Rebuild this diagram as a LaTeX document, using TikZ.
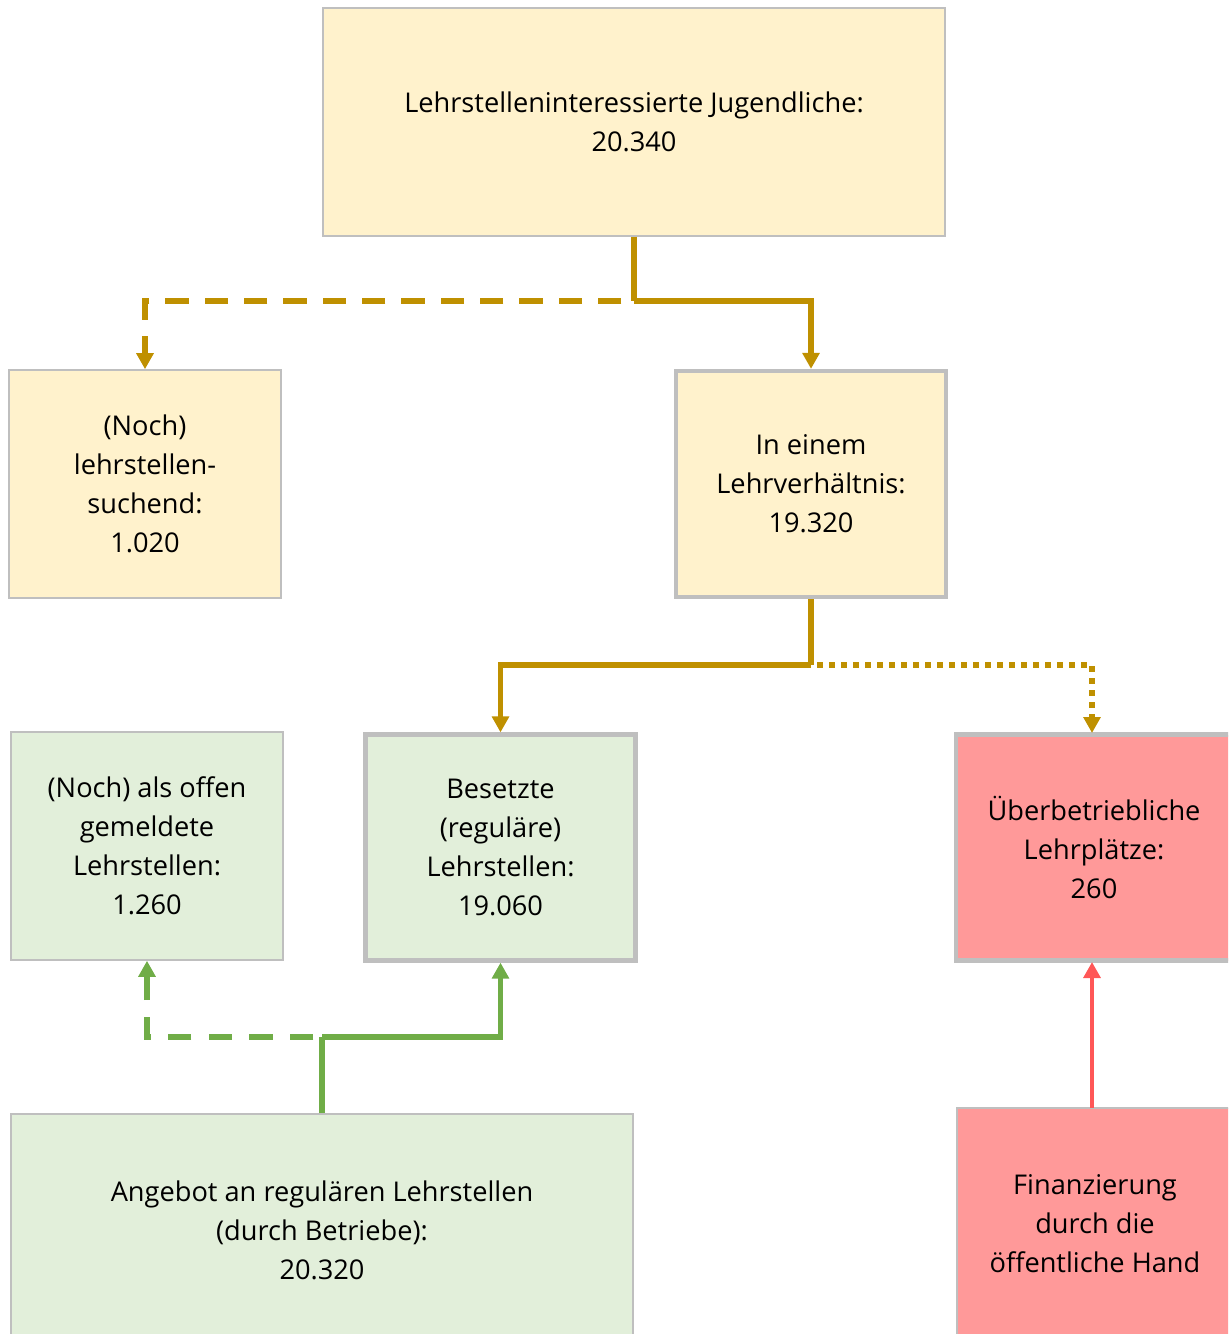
\documentclass[tikz,border=0pt]{standalone}
\usepackage{fontspec}
\setmainfont{Open Sans}
\usetikzlibrary{arrows.meta}
\definecolor{gold}{HTML}{BF9000}
\definecolor{grn}{HTML}{70AD47}
\definecolor{rd}{HTML}{FF5757}
\definecolor{yfill}{HTML}{FFF2CC}
\definecolor{gfill}{HTML}{E2EFDA}
\definecolor{rfill}{HTML}{FF9999}
\definecolor{bord}{HTML}{BFBFBF}
\tikzset{
  box/.style={draw=bord, line width=1.2pt, align=center, inner sep=0pt,
    font=\fontsize{20.4pt}{29.25pt}\selectfont, text=black},
  thickbox/.style={box, line width=3.2pt},
  conn/.style={line width=4.2pt, -{Triangle[width=12.5pt,length=12pt]}},
  plain/.style={line width=4.2pt},
}
\begin{document}
\begin{tikzpicture}[x=0.75pt,y=-0.75pt]
\clip (0,0) rectangle (1228,1334);
\node[box, fill=yfill, minimum width={622*0.75pt}, minimum height={228*0.75pt}] (top) at (634,122)
  {Lehrstelleninteressierte Jugendliche:\\20.340};
\node[box, fill=yfill, minimum width={272*0.75pt}, minimum height={228*0.75pt}] (seek) at (145,484)
  {(Noch)\\lehrstellen-\\suchend:\\1.020};
\node[thickbox, fill=yfill, minimum width={270*0.75pt}, minimum height={226*0.75pt}] (lv) at (811,484)
  {In einem\\Lehrverhältnis:\\19.320};
\node[box, fill=gfill, minimum width={272*0.75pt}, minimum height={228*0.75pt}] (offen) at (147,846)
  {(Noch) als offen\\gemeldete\\Lehrstellen:\\1.260};
\node[thickbox, fill=gfill, minimum width={270*0.75pt}, minimum height={226*0.75pt}] (bes) at (500.5,847.5)
  {Besetzte\\(reguläre)\\Lehrstellen:\\19.060};
\node[thickbox, fill=rfill, minimum width={276*0.75pt}, minimum height={226*0.75pt}] (ueb) at (1094,847.5)
  {Überbetriebliche\\Lehrplätze:\\260};
\node[box, fill=gfill, minimum width={622*0.75pt}, minimum height={232*0.75pt}] (ang) at (322,1230)
  {Angebot an regulären Lehrstellen\\(durch Betriebe):\\20.320};
\node[box, fill=rfill, minimum width={276*0.75pt}, minimum height={232*0.75pt}] (fin) at (1095,1224)
  {Finanzierung\\durch die\\öffentliche Hand};
\coordinate (j1) at (634,301);
\coordinate (j2) at (811,665);
\coordinate (j3) at (322,1037);
\coordinate (ut) at (1092,733);
\coordinate (ub) at (1092,962);
\coordinate (ft) at (1092,1108);
\draw[plain, gold] (top.south) -- (j1);
\draw[conn, gold] (j1) -| (lv.north);
\draw[conn, gold, dash pattern=on 17.5pt off 12pt, dash phase=20pt] (j1) -| (seek.north);
\draw[plain, gold] (lv.south) -- (j2);
\draw[conn, gold] (j2) -| (bes.north);
\draw[conn, gold, dash pattern=on 4.5pt off 4.5pt, dash phase=4.5pt] (j2) -| (ut);
\draw[plain, grn] (ang.north) -- (j3);
\draw[conn, grn] (j3) -| (bes.south);
\draw[conn, grn, dash pattern=on 17.5pt off 13pt, dash phase=24pt] (j3) -| (offen.south);
\draw[conn, rd, line width=3.6pt] (ft) -- (ub);
\end{tikzpicture}
\end{document}
